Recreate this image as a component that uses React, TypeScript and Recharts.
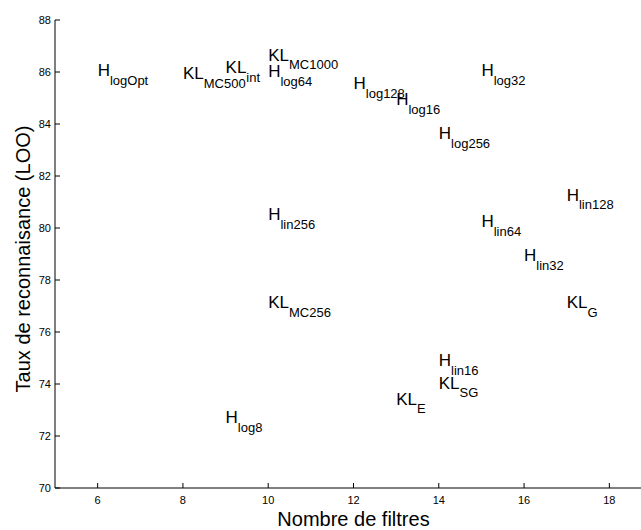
import { ScatterChart, Scatter, XAxis, YAxis } from 'recharts';

const FONT = '"Liberation Sans", Arial, Helvetica, sans-serif';

// label = main letters + subscript, placed at (filters, rate)
const mainText = ['H', 'KL', 'KL', 'KL', 'H', 'H', 'H', 'H', 'H', 'H', 'KL', 'H', 'H', 'H', 'KL', 'H', 'KL', 'KL', 'H'];
const subText = ['logOpt', 'MC500', 'int', 'MC1000', 'log64', 'log128', 'log16', 'log32', 'log256', 'lin256', 'MC256', 'lin128', 'lin64', 'lin32', 'G', 'lin16', 'SG', 'E', 'log8'];
const filters = [6, 8, 9, 10, 10, 12, 13, 15, 14, 10, 10, 17, 15, 16, 17, 14, 14, 13, 9];
const rates = [86.06, 85.96, 86.19, 86.67, 86.03, 85.56, 84.95, 86.07, 83.65, 80.53, 77.15, 81.28, 80.26, 78.96, 77.14, 74.92, 74.05, 73.44, 72.73];

const xTicks = [6, 8, 10, 12, 14, 16, 18];
const yTicks = [70, 72, 74, 76, 78, 80, 82, 84, 86, 88];

const points = filters.map((f, i) => ({ x: f, y: rates[i], main: mainText[i], sub: subText[i] }));

const LabelMark = (props: any) => {
  const { cx, cy, payload } = props;
  return (
    <text x={cx} y={cy + 6} fontFamily={FONT} fontSize={17} fill="#000">
      <tspan>{payload.main}</tspan>
      <tspan dy={8.5} fontSize={13}>{payload.sub}</tspan>
    </text>
  );
};

const YLabel = (props: any) => {
  const { viewBox } = props;
  const x = viewBox.x + 30;
  const y = viewBox.y + viewBox.height / 2 + 5;
  return (
    <text x={x} y={y} transform={`rotate(-90, ${x}, ${y})`} textAnchor="middle" fontFamily={FONT} fontSize={20} fill="#000">
      Taux de reconnaisance (LOO)
    </text>
  );
};

const XLabel = (props: any) => {
  const { viewBox } = props;
  const x = viewBox.x + viewBox.width / 2;
  const y = viewBox.y + viewBox.height - 4;
  return (
    <text x={x} y={y} textAnchor="middle" fontFamily={FONT} fontSize={20} fill="#000">
      Nombre de filtres
    </text>
  );
};

const App = () => {
  return (
    <div style={{ position: 'absolute', left: 0, top: 0, width: 641, height: 530, overflow: 'hidden', background: '#fff' }}>
      <ScatterChart width={660} height={530} margin={{ top: 20, right: 8, bottom: 0, left: 0 }}>
        <XAxis
          type="number"
          dataKey="x"
          domain={[5, 19]}
          ticks={xTicks}
          allowDataOverflow
          height={42}
          axisLine={{ stroke: '#000' }}
          tickLine={{ stroke: '#000' }}
          tickSize={-5}
          tickMargin={13}
          tick={{ fill: '#000', fontSize: 11, fontFamily: FONT }}
          label={<XLabel />}
        />
        <YAxis
          type="number"
          dataKey="y"
          domain={[70, 88]}
          ticks={yTicks}
          allowDataOverflow
          width={55}
          axisLine={{ stroke: '#000' }}
          tickLine={{ stroke: '#000' }}
          tickSize={-5}
          tickMargin={9}
          tick={{ fill: '#000', fontSize: 11, fontFamily: FONT }}
          label={<YLabel />}
        />
        <Scatter data={points} shape={<LabelMark />} isAnimationActive={false} />
      </ScatterChart>
    </div>
  );
};

export default App;
